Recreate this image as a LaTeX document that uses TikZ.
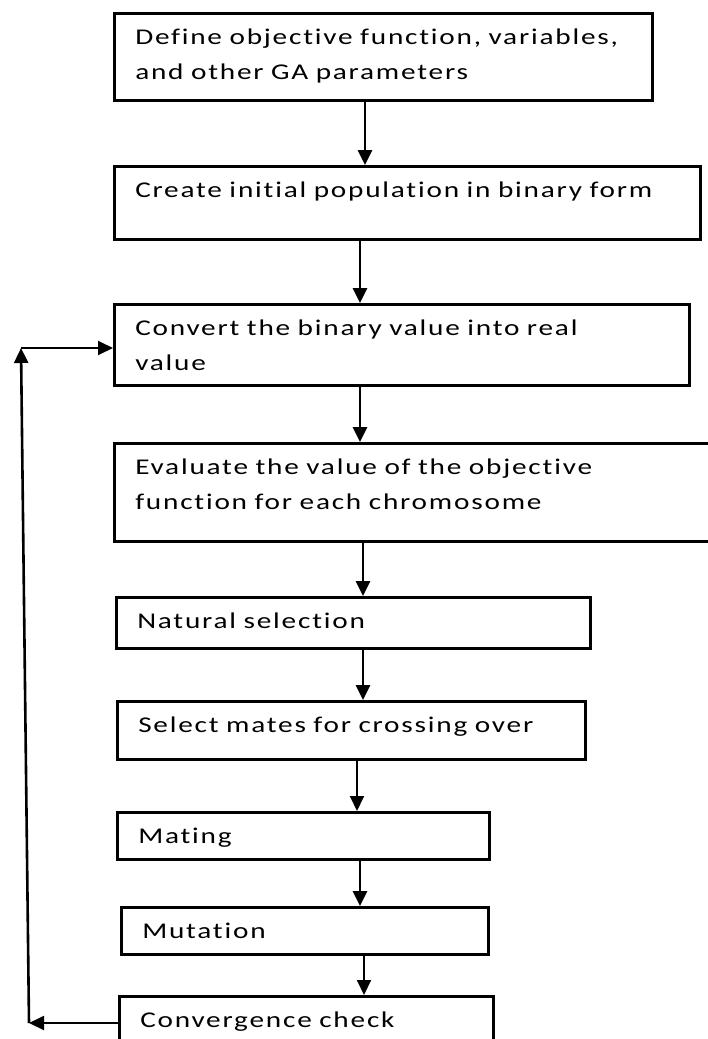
\documentclass[tikz,border=0pt]{standalone}
\usepackage{fontspec}
\setmainfont[Ligatures=NoCommon, FakeStretch=1.3, LetterSpace=8]{Carlito}
\usetikzlibrary{arrows.meta}
\tikzset{
  stepbox/.style={draw, line width=2.5pt, anchor=north west, inner xsep=21pt, inner ysep=0pt,
    align=left, text height=31.5pt, font=\fontsize{22.5pt}{35pt}\selectfont},
  flow/.style={line width=2.6pt, -{Triangle[length=15pt,width=14pt]}},
  thinflow/.style={flow, line width=1.9pt},
}
\begin{document}
\begin{tikzpicture}[x=1pt,y=-1pt]
\useasboundingbox (0,0) rectangle (708,1039);
%%%%%%%%%%%%%%%%%%%%%%%%%%%%%%% GA steps
\node[stepbox, text width=496pt, text depth=55.5pt](define) at (113,12){Define objective function, variables,\\and other GA parameters};
\node[stepbox, text width=544pt, text depth=41.5pt](create) at (113,165){Create initial population in binary form};
\node[stepbox, text width=533pt, text depth=49.5pt](convert) at (113,303){Convert the binary value into real\\value};
\node[stepbox, text width=568pt, text depth=66.5pt](evaluate) at (113,442){Evaluate the value of the objective\\function for each chromosome};
\node[stepbox, text width=432pt, text depth=19.5pt](natural) at (115,596){Natural selection};
\node[stepbox, text width=426pt, text depth=26.5pt](select) at (116,700){Select mates for crossing over};
\node[stepbox, text width=330pt, text depth=15.5pt](mating) at (116,811){Mating};
\node[stepbox, text width=325pt, text depth=15.5pt](mutation) at (120,906){Mutation};
\node[stepbox, text width=332pt, text depth=40pt](converge) at (118,995){Convergence check};
%%%%%%%%%%%%%%%%%%%%%%%%%%%%%%% flow
\draw[flow] (define.south -| 365,0) -- (create.north -| 365,0);
\draw[flow] (create.south -| 360,0) -- (convert.north -| 360,0);
\draw[flow] (convert.south -| 360,0) -- (evaluate.north -| 360,0);
\draw[flow] (evaluate.south -| 363,0) -- (natural.north -| 363,0);
\draw[flow] (natural.south -| 363,0) -- (select.north -| 363,0);
\draw[thinflow] (select.south -| 357,0) -- (mating.north -| 357,0);
\draw[flow] (mating.south -| 360,0) -- (mutation.north -| 360,0);
\draw[thinflow] (mutation.south -| 364,0) -- (converge.north -| 364,0);
%%%%%%%%%%%%%%%%%%%%%%%%%%%%%%% loop back
\coordinate(loopbot) at (29,1023);
\coordinate(looptop) at (21,348);
\draw[thinflow] (loopbot -| converge.west) -- (loopbot);
\draw[flow] (loopbot) -- (looptop);
\draw[thinflow] (looptop) -- (looptop -| convert.west);
\end{tikzpicture}
\end{document}
